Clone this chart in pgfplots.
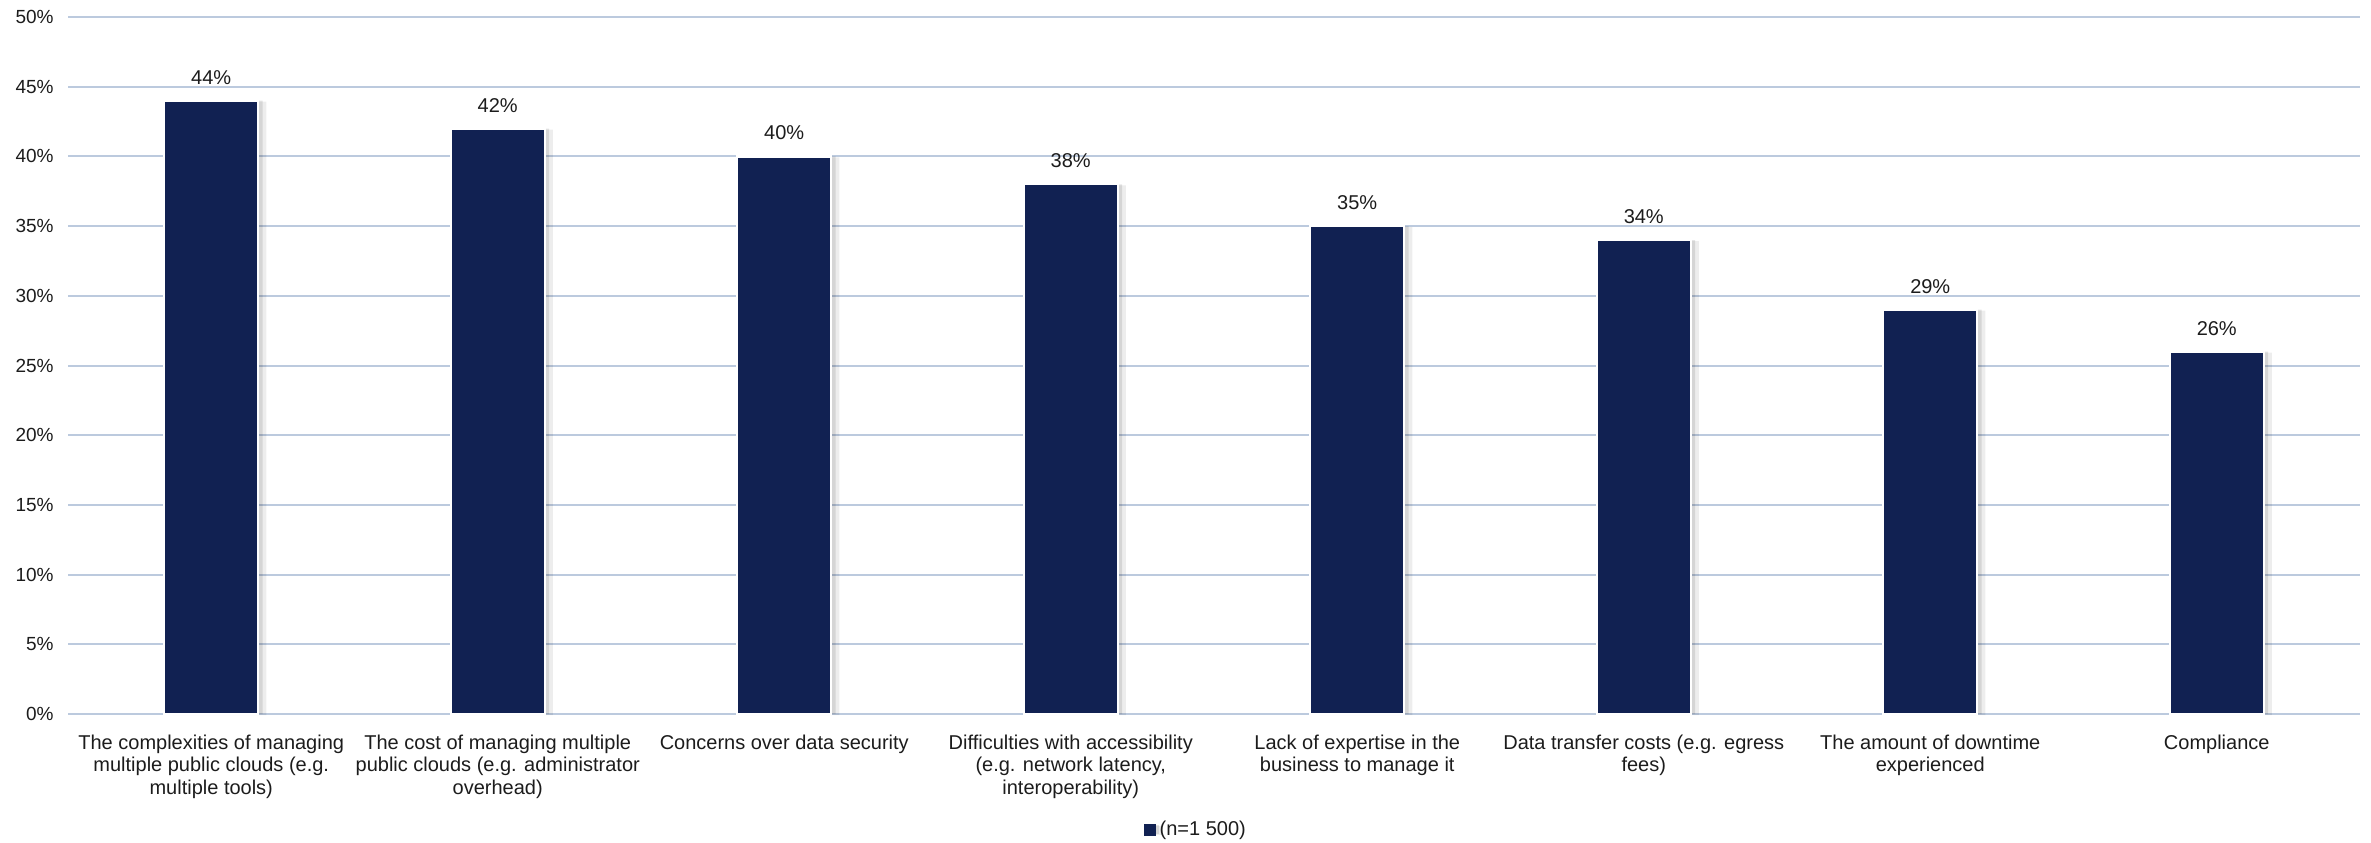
\documentclass[border=0pt]{standalone}
\usepackage{pgfplots}
\pgfplotsset{compat=1.18}
\usepackage{fontspec}
\setmainfont{Liberation Sans}
\definecolor{barnavy}{RGB}{17,33,82}
\definecolor{gridblue}{RGB}{188,202,222}
\definecolor{labelgray}{RGB}{28,28,28}

\begin{document}
\begin{tikzpicture}
\path[use as bounding box] (0,0) rectangle (1185.5pt,421pt);
\begin{axis}[
  at={(34pt,64pt)}, anchor=south west,
  width=1146pt, height=348.5pt, scale only axis,
  ybar, bar width=47pt,
  xmin=-0.5, xmax=7.5, ymin=0, ymax=50,
  xtick=data, ytick={0,5,...,50},
  axis line style={draw=none},
  tick style={draw=none},
  ymajorgrids, grid style={gridblue, line width=1pt},
  /pgf/number format/assume math mode=true,
  yticklabel={\pgfmathprintnumber{\tick}\%},
  yticklabel style={font=\fontsize{9.5}{11}\selectfont, text=labelgray, xshift=-3.7pt},
  xticklabels={
    {The complexities of managing\\multiple public clouds (e.g.\\multiple tools)},
    {The cost of managing multiple\\public clouds (e.g. administrator\\overhead)},
    {Concerns over data security},
    {Difficulties with accessibility\\(e.g. network latency,\\interoperability)},
    {Lack of expertise in the\\business to manage it},
    {Data transfer costs (e.g. egress\\fees)},
    {The amount of downtime\\experienced},
    {Compliance}},
  xticklabel style={align=center, anchor=north, yshift=-2.5pt,
    font=\fontsize{10}{11.3}\selectfont, text=labelgray},
  nodes near coords={\pgfmathprintnumber{\pgfplotspointmeta}\%},
  nodes near coords style={font=\fontsize{10}{11}\selectfont, text=labelgray, anchor=south, yshift=4.2pt},
  clip=false,
  legend style={at={(0.4926,-0.1664)}, anchor=center, draw=none,
    font=\fontsize{10}{11}\selectfont, text=labelgray},
  legend image code/.code={\fill[barnavy] (0pt,-2.25pt) rectangle (4.5pt,2.25pt);},
]
% soft shadow on the right of each bar, then the bar with a white rim
\addplot[fill=barnavy, draw=white, line width=1.2pt,
  preaction={draw=none, fill=black, fill opacity=0.07, transform canvas={xshift=4pt, yshift=-0.5pt}},
  preaction={draw=none, fill=black, fill opacity=0.10, transform canvas={xshift=2.2pt}}]
  coordinates {(0,44) (1,42) (2,40) (3,38) (4,35) (5,34) (6,29) (7,26)};
\addlegendentry{(n=1 500)}
\end{axis}
\end{tikzpicture}
\end{document}
